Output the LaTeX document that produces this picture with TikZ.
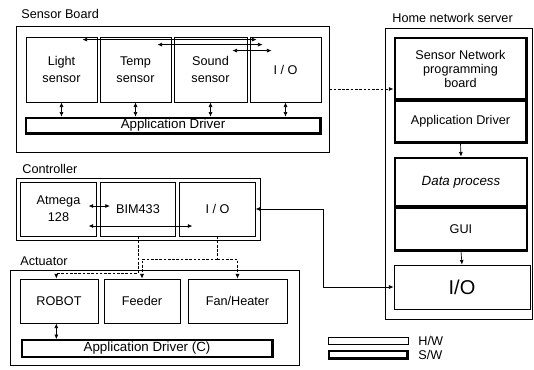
\documentclass[tikz,border=0pt]{standalone}
\usepackage{fontspec}
\setmainfont{Liberation Sans}
\usetikzlibrary{fit,arrows.meta}

\begin{document}
\begin{tikzpicture}[x=0.75pt,y=-0.75pt,line width=0.6pt,
  box/.style={draw,inner sep=0pt,align=center,font=\fontsize{9.5}{12.5}\selectfont},
  hw/.style={box},
  sw/.style={box,line width=0.5pt},
  sensorbox/.style={hw,minimum width=53.25pt,minimum height=48.75pt},
  ctbox/.style={hw,minimum width=56.5pt,minimum height=40.5pt},
  acbox/.style={hw,minimum width=57pt,minimum height=33pt},
  srvbox/.style={sw,minimum width=100pt},
  grp/.style={draw,inner sep=0pt},
  lbl/.style={anchor=base west,inner sep=0pt,font=\fontsize{9.5}{11}\selectfont},
  arr/.style={line width=0.5pt,{Latex[length=3.5pt,width=3pt]}-{Latex[length=3.5pt,width=3pt]}},
  dsh/.style={line width=0.5pt,dash pattern=on 2pt off 1.2pt,-{Latex[length=3.5pt,width=3pt]}}]
\useasboundingbox (0,0) rectangle (534,369);

% sensor board
\node[lbl] (sblbl) at (21,18) {Sensor Board};
\node[grp,fit={(16,26)(329,152)}] (sb) {};
\node[sensorbox] (light) at (61.5,69.5) {Light\\sensor};
\node[sensorbox] (temp) at (135.5,69.5) {Temp\\sensor};
\node[sensorbox,minimum width=54.75pt] (sound) at (210.5,69.5) {Sound\\sensor};
\node[sensorbox] (sio) at (285.5,69.5) {I / O};
\node[sw,minimum width=222pt,minimum height=12.75pt,font=\fontsize{10}{12}\selectfont] (sbdrv) at (173,125.5) {Application Driver};
\foreach \n in {light,temp,sound,sio}
  \draw[arr] (\n.south) -- (\n.south |- sbdrv.north);
\draw[arr] ([shift={(-15,3)}]light.north east) -- ([shift={(7,3)}]sio.north west);
\draw[arr] ([shift={(-14,8)}]temp.north east) -- ([shift={(13,8)}]sio.north west);
\draw[arr] ([shift={(-15,14)}]sound.north east) -- ([shift={(22,14)}]sio.north west);

% home network server
\node[lbl] (hslbl) at (392,22) {Home network server};
\node[grp,fit={(385,28)(532,319)}] (hs) {};
\node[srvbox,minimum height=47.25pt,font=\fontsize{9.5}{10.5}\selectfont] (snpb) at (460.5,68.5) {Sensor Network\\programming\\board};
\node[srvbox,minimum height=32.25pt] (hdrv) at (460.5,121.5) {Application Driver};
\node[srvbox,minimum height=37.5pt,font=\fontsize{10}{12}\selectfont\itshape] (dp) at (461,182) {Data process};
\node[srvbox,minimum height=33pt] (gui) at (461,229) {GUI};
\node[hw,minimum width=102pt,minimum height=33pt,font=\fontsize{15}{18}\selectfont] (hio) at (462,287) {I/O};
\draw[line width=0.5pt,-{Latex[length=3.5pt,width=3pt]}] (hdrv.south) -- (dp.north);
\draw[line width=0.5pt,-{Latex[length=3.5pt,width=3pt]}] (gui.south) -- (hio.north);
\draw[dsh] (sb.east) -- (sb.east -| snpb.west);

% controller
\node[lbl] (ctlbl) at (22,173) {Controller};
\node[grp,fit={(16,178)(260,240)}] (ct) {};
\node[ctbox] (atm) at (58.5,209) {Atmega\\128};
\node[ctbox] (bim) at (138,209) {BIM433};
\node[ctbox] (cio) at (217.5,209) {I / O};
\draw[arr] ([shift={(-8,-3)}]atm.east) -- ([shift={(10,-3)}]bim.west);
\draw[arr] ([shift={(-8,17)}]atm.east) -- ([shift={(13,17)}]cio.west);
\draw[arr] (cio.east) -- ++(68,0) |- (hio.west);

% actuator
\node[lbl] (aclbl) at (20,265) {Actuator};
\node[grp,fit={(10,270)(299,365)}] (ac) {};
\node[acbox,minimum width=58.5pt] (robot) at (59,301) {ROBOT};
\node[acbox] (feeder) at (142,301) {Feeder};
\node[acbox,minimum width=74.25pt] (fan) at (237.5,301) {Fan/Heater};
\node[sw,minimum width=189pt,minimum height=13.5pt,font=\fontsize{10}{12}\selectfont] (adrv) at (147,348.5) {Application Driver (C)};
\draw[arr] ([xshift=-2]robot.south) -- ([xshift=-2]robot.south |- adrv.north);
\draw[dsh] (bim.south) -- ++(0,37) -| ([xshift=-2]robot.north);
\draw[dash pattern=on 2pt off 1.2pt,line width=0.5pt] (cio.south) -- ++(0,23) coordinate (split);
\draw[dsh] (split) -| (feeder.north);
\draw[dsh] (split) -| (fan.north);

% legend
\node[hw,minimum width=60pt,minimum height=5.25pt] (hwkey) at (368,340.5) {};
\node[lbl,anchor=west] (hwlbl) at (418,340.5) {H/W};
\node[sw,minimum width=60pt,minimum height=6.75pt] (swkey) at (368,354.5) {};
\node[lbl,anchor=west] (swlbl) at (418,354.5) {S/W};

% thick inner frame of the S/W blocks
\foreach \n in {sbdrv,snpb,hdrv,dp,gui,adrv,swkey}
  \draw[line width=1.1pt] ([shift={(1.5,1.5)}]\n.north west) rectangle ([shift={(-1.5,-1.5)}]\n.south east);
\end{tikzpicture}
\end{document}
